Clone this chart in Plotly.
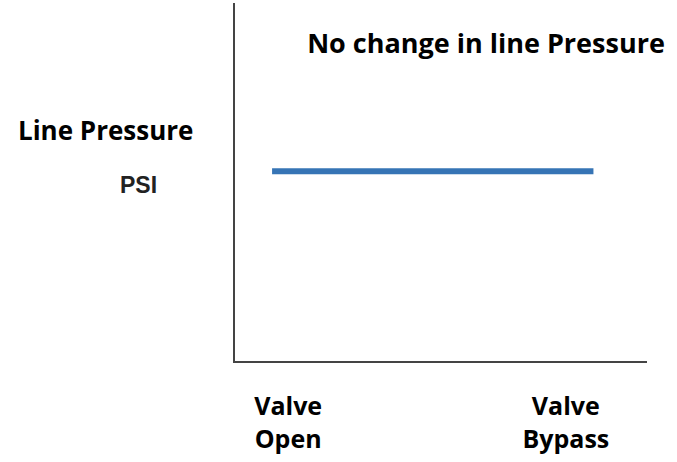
import plotly.graph_objects as go

# Data
stage_x = [0.9, 8.7]             # start/end of the constant pressure line
pressure_psi = [5.3, 5.3]        # constant line pressure (arbitrary units)
tick_positions = [1.29, 8.03]
tick_labels = ["Valve<br>Open", "Valve<br>Bypass"]
title_text = "No change in line Pressure"
y_label = "Line Pressure"
y_unit = "PSI"

FONT = "Open Sans"
W, H = 677, 462
L, R, T, B = 235, 30, 3, 101

fig = go.Figure()
fig.add_trace(go.Scatter(
    x=stage_x, y=pressure_psi, mode="lines",
    line=dict(color="#3674B5", width=6), showlegend=False, hoverinfo="skip",
))

fig.update_layout(
    width=W, height=H,
    margin=dict(l=L, r=R, t=T, b=B, pad=0),
    paper_bgcolor="white", plot_bgcolor="white",
    title=dict(text=f"<b>{title_text}</b>", x=486 / W, xref="container",
               y=1 - 44 / H, yref="container", xanchor="center", yanchor="middle",
               font=dict(family=FONT, size=27, color="black")),
    xaxis=dict(range=[0, 10], showgrid=False, zeroline=False,
               showline=True, linecolor="#444444", linewidth=2,
               tickvals=tick_positions, ticktext=[f"<b>{t}</b>" for t in tick_labels],
               ticks="", ticklabelstandoff=22,
               tickfont=dict(family=FONT, size=25, color="black")),
    yaxis=dict(range=[0, 10], showgrid=False, zeroline=False,
               showline=True, linecolor="#444444", linewidth=2,
               showticklabels=False, ticks=""),
)

pw = W - L - R
ph = H - T - B
fig.add_annotation(text=f"<b>{y_label}</b>", xref="paper", yref="paper",
                   x=(105 - L) / pw, y=(H - B - 130) / ph,
                   xanchor="center", yanchor="middle", showarrow=False,
                   font=dict(family=FONT, size=26, color="black"))
fig.add_annotation(text=f"<b>{y_unit}</b>", xref="paper", yref="paper",
                   x=(138.5 - L) / pw, y=(H - B - 184.5) / ph,
                   xanchor="center", yanchor="middle", showarrow=False,
                   font=dict(family="Liberation Sans", size=23, color="#222222"))

fig.write_html("out.html",
               config={"displayModeBar": False, "staticPlot": True},
               post_script="document.body.style.margin='0px';document.body.style.overflow='hidden';")
